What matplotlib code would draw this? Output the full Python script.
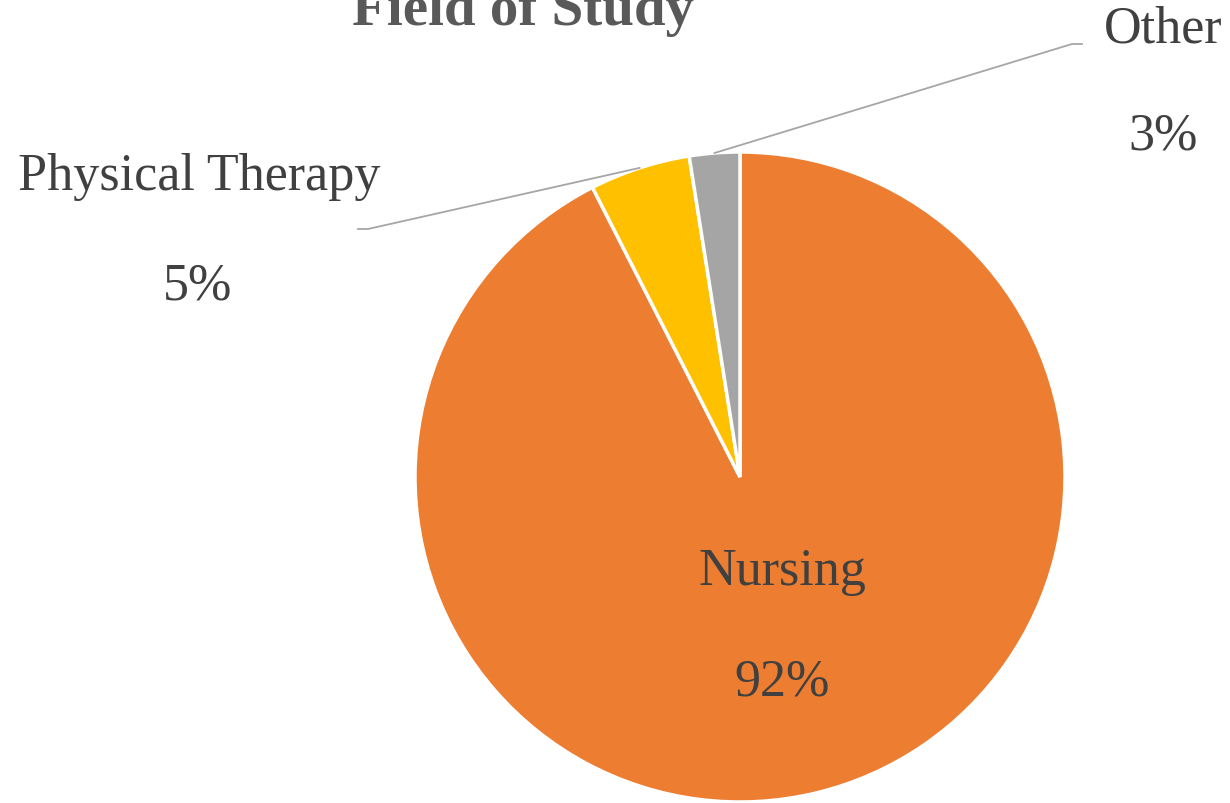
import numpy as np
import matplotlib
matplotlib.use("Agg")
import matplotlib.pyplot as plt

fields = ["Nursing", "Physical Therapy", "Other"]
shares = [92.5, 5.0, 2.5]
share_labels = ["92%", "5%", "3%"]
colors = ["#ED7D31", "#FFC000", "#A5A5A5"]

plt.rcParams['font.family'] = ['Liberation Serif', 'DejaVu Serif']
txt = '#404040'

W, H = 1230, 804
fig = plt.figure(figsize=(W / 100, H / 100), dpi=100)
cx, cy, r = 740, 478, 325
ax = fig.add_axes([(cx - r) / W, (H - cy - r) / H, 2 * r / W, 2 * r / H])
wedges, _ = ax.pie(shares, colors=colors, startangle=90, counterclock=False,
                   radius=1, wedgeprops=dict(edgecolor='white', linewidth=2.5))
ax.set_xlim(-1, 1)
ax.set_ylim(-1, 1)
ax.set_aspect('equal')
ax.axis('off')


def d(px, py):
    # pixel position -> data coords of the pie axes
    return (px - cx) / r, (cy - py) / r


# label positions (pixels) and elbow points for leader lines
label_pos = {
    "Nursing": ((782, 572), (782, 683), None),
    "Physical Therapy": ((199, 177), (198, 287), [(368, 230), (358, 230)]),
    "Other": ((1163, 30), (1163, 137), [(1072, 45), (1082, 45)]),
}

for w, name, lab in zip(wedges, fields, share_labels):
    (nx, ny), (vx, vy), elbow = label_pos[name]
    x, y = d(nx, ny)
    ax.text(x, y, name, ha='center', va='center', fontsize=37.5, color=txt, clip_on=False)
    x, y = d(vx, vy)
    ax.text(x, y, lab, ha='center', va='center', fontsize=37.5, color=txt, clip_on=False)
    if elbow:
        mid = np.deg2rad((w.theta1 + w.theta2) / 2)
        xs = [np.cos(mid)] + [d(*p)[0] for p in elbow]
        ys = [np.sin(mid)] + [d(*p)[1] for p in elbow]
        ax.plot(xs, ys, color='#A6A6A6', lw=1.3, clip_on=False)

# title is cropped by the top edge in the original too
fig.text(523 / W, 1 - 25 / H, "Field of Study", ha='center', va='baseline',
         fontsize=41, fontweight='bold', color='#595959')

fig.savefig("out.png", dpi=100)
